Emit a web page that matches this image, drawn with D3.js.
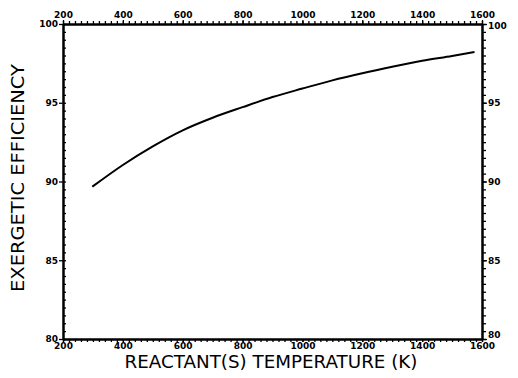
<!DOCTYPE html>
<html>
<head>
<meta charset="utf-8">
<script src="https://cdn.jsdelivr.net/npm/d3@7"></script>
<style>
  body { margin: 0; background: #fff; }
  svg { display: block; }
</style>
</head>
<body>
<div id="chart"></div>
<script>
// reactant temperature (K) and exergetic efficiency
var temperatures = [298, 400, 500, 600, 700, 800, 900, 1000, 1100, 1200, 1300, 1400, 1500, 1575];
var efficiency = [89.67, 91.05, 92.23, 93.25, 94.05, 94.72, 95.36, 95.9, 96.42, 96.87, 97.28, 97.66, 97.97, 98.22];
var xTicks = [200, 400, 600, 800, 1000, 1200, 1400, 1600];
var yTicks = [80, 85, 90, 95, 100];

var width = 518, height = 378;
var margin = {top: 24, right: 36, bottom: 39, left: 63};

var svg = d3.select('#chart').append('svg')
  .attr('width', width)
  .attr('height', height);

var x = d3.scaleLinear().domain([200, 1600]).range([margin.left, width - margin.right]);
var y = d3.scaleLinear().domain([80, 100]).range([height - margin.bottom, margin.top]);

var minorX = d3.range(200, 1601, 20);
var minorY = d3.range(80, 100.01, 0.5);
var fmt = d3.format('d');

function styleAxis(g) {
  g.select('.domain').attr('stroke', '#000').attr('stroke-width', 2);
  g.selectAll('.tick line').attr('stroke', '#000').attr('stroke-width', 1.3);
  g.selectAll('.tick text')
    .attr('font-family', 'Verdana, "DejaVu Sans", sans-serif')
    .attr('font-weight', 'bold')
    .attr('font-size', '9px')
    .attr('fill', '#000');
}

// minor ticks (no labels)
function minor(axis) { return axis.tickFormat('').tickSizeOuter(0); }

svg.append('g').attr('transform', 'translate(0,' + y(80) + ')')
  .call(minor(d3.axisBottom(x).tickValues(minorX).tickSize(3))).call(styleAxis);
svg.append('g').attr('transform', 'translate(0,' + y(100) + ')')
  .call(minor(d3.axisTop(x).tickValues(minorX).tickSize(3))).call(styleAxis);
svg.append('g').attr('transform', 'translate(' + x(200) + ',0)')
  .call(minor(d3.axisLeft(y).tickValues(minorY).tickSize(-3))).call(styleAxis);
svg.append('g').attr('transform', 'translate(' + x(1600) + ',0)')
  .call(minor(d3.axisRight(y).tickValues(minorY).tickSize(4))).call(styleAxis);

// labelled axes
svg.append('g').attr('transform', 'translate(0,' + y(80) + ')')
  .call(d3.axisBottom(x).tickValues(xTicks).tickFormat(fmt).tickSize(3).tickPadding(1).tickSizeOuter(0)).call(styleAxis);
svg.append('g').attr('transform', 'translate(0,' + y(100) + ')')
  .call(d3.axisTop(x).tickValues(xTicks).tickFormat(fmt).tickSize(4).tickPadding(2).tickSizeOuter(0)).call(styleAxis);
svg.append('g').attr('transform', 'translate(' + x(200) + ',0)')
  .call(d3.axisLeft(y).tickValues(yTicks).tickSize(4).tickPadding(1).tickSizeOuter(0)).call(styleAxis);
var rightAxis = svg.append('g').attr('transform', 'translate(' + x(1600) + ',0)')
  .call(d3.axisRight(y).tickValues(yTicks).tickSize(5).tickPadding(1).tickSizeOuter(0)).call(styleAxis);
// keep the corner labels clear of the x labels
rightAxis.selectAll('.tick text').filter(function(d) { return d === 80; }).attr('dy', '-0.2em');
rightAxis.selectAll('.tick text').filter(function(d) { return d === 100; }).attr('dy', '0.5em');

// curve
var line = d3.line()
  .x(function(d, i) { return x(temperatures[i]); })
  .y(function(d) { return y(d); })
  .curve(d3.curveMonotoneX);

svg.append('path')
  .datum(efficiency)
  .attr('fill', 'none')
  .attr('stroke', '#000')
  .attr('stroke-width', 2)
  .attr('d', line);

// axis titles
svg.append('text')
  .attr('x', 271)
  .attr('y', 368)
  .attr('text-anchor', 'middle')
  .attr('font-family', '"DejaVu Sans", sans-serif')
  .attr('font-size', '17px')
  .attr('textLength', 293)
  .attr('lengthAdjust', 'spacingAndGlyphs')
  .attr('fill', '#000')
  .text('REACTANT(S)  TEMPERATURE  (K)');

svg.append('text')
  .attr('transform', 'translate(24,178) rotate(-90)')
  .attr('text-anchor', 'middle')
  .attr('font-family', '"DejaVu Sans", sans-serif')
  .attr('font-size', '18px')
  .attr('textLength', 228)
  .attr('lengthAdjust', 'spacingAndGlyphs')
  .attr('fill', '#000')
  .text('EXERGETIC  EFFICIENCY');
</script>
</body>
</html>
